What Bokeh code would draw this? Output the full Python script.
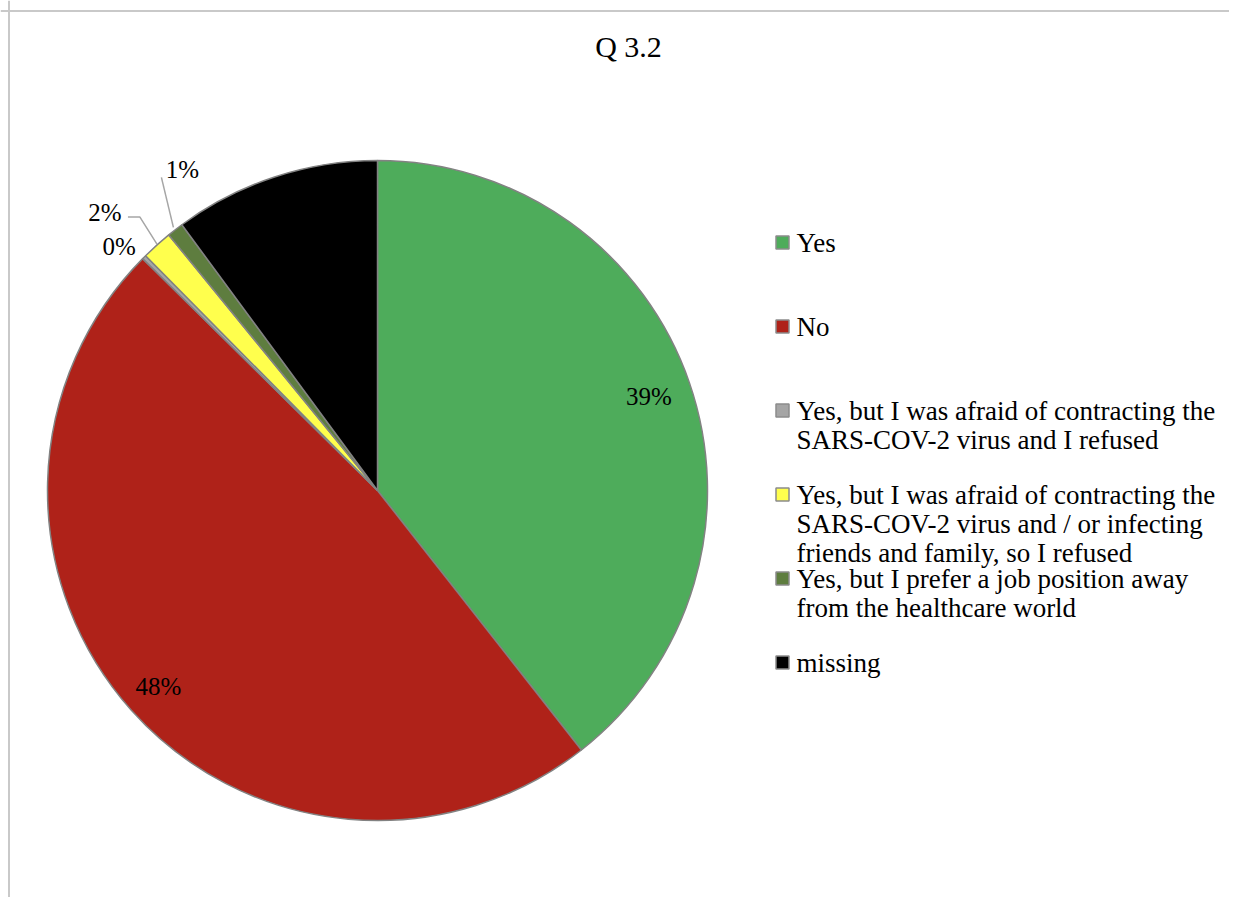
import math
from bokeh.plotting import figure
from bokeh.models import Range1d, Span
from bokeh.core.properties import value
from bokeh.embed import file_html
from bokeh.resources import INLINE

# ---- data ----
title = "Q 3.2"
categories = [
    "Yes",
    "No",
    "Yes, but I was afraid of contracting the\nSARS-COV-2 virus and I refused",
    "Yes, but I was afraid of contracting the\nSARS-COV-2 virus and / or infecting\nfriends and family, so I refused",
    "Yes, but I prefer a job position away\nfrom the healthcare world",
    "missing",
]
values = [39.4, 48.0, 0.2, 1.5, 0.8, 10.1]
labels = ["39%", "48%", "0%", "2%", "1%", ""]
colors = ["#4EAC5B", "#AF2219", "#A5A5A5", "#FFFF4D", "#5E7D3F", "#000000"]

FONT = value("Liberation Serif")
FS = "25px"
LFS = "27px"

W, H = 1229, 897
p = figure(width=W, height=H, output_backend="svg", toolbar_location=None,
           x_range=Range1d(0, W), y_range=Range1d(-H, 0),
           min_border=0, min_border_left=0, min_border_right=0,
           min_border_top=0, min_border_bottom=0)
p.axis.visible = False
p.xgrid.visible = False
p.ygrid.visible = False
p.outline_line_color = None
p.background_fill_color = "white"
p.border_fill_color = "white"

# chart area frame (top and left edges visible)
p.add_layout(Span(location=-10.5, dimension="width", line_color="#C9C9C9", line_width=2))
p.add_layout(Span(location=8.5, dimension="height", line_color="#C9C9C9", line_width=2))

# title
p.text(x=[628], y=[-46], text=[title], text_font=FONT, text_font_size="30px",
       text_align="center", text_baseline="middle", text_color="black")

# pie
cx, cy, R = 377, -490, 330
total = sum(values)
starts, ends, mids = [], [], []
cum = 0.0
for v in values:
    a0 = math.pi / 2 - 2 * math.pi * cum / total
    cum += v
    a1 = math.pi / 2 - 2 * math.pi * cum / total
    starts.append(a0)
    ends.append(a1)
    mids.append((a0 + a1) / 2)

p.wedge(x=[cx] * len(values), y=[cy] * len(values), radius=R,
        start_angle=starts, end_angle=ends, direction="clock",
        fill_color=colors, line_color="#828282", line_width=1.5)

# inside labels for the big slices
for i, rr in ((0, 0.87 * R), (1, 0.89 * R)):
    p.text(x=[cx + rr * math.cos(mids[i])], y=[cy + rr * math.sin(mids[i])],
           text=[labels[i]], text_font=FONT, text_font_size=FS,
           text_align="center", text_baseline="middle", text_color="black")

# outside labels for small slices
# "0%" (grey), no leader
ex = cx + R * math.cos(mids[2]); ey = cy + R * math.sin(mids[2])
p.text(x=[ex - 25], y=[ey + 11], text=[labels[2]], text_font=FONT, text_font_size=FS,
       text_align="center", text_baseline="middle", text_color="black")

# "2%" (yellow) with leader
ex = cx + R * math.cos(mids[3]); ey = cy + R * math.sin(mids[3])
p.line(x=[ex - 29, ex - 17, ex], y=[ey + 28, ey + 28, ey + 1], line_color="#A6A6A6", line_width=1.5)
p.text(x=[ex - 52], y=[ey + 33], text=[labels[3]], text_font=FONT, text_font_size=FS,
       text_align="center", text_baseline="middle", text_color="black")

# "1%" (dark green) with leader
ex = cx + 333 * math.cos(mids[4]); ey = cy + 333 * math.sin(mids[4])
p.line(x=[ex - 12, ex], y=[ey + 50, ey], line_color="#A6A6A6", line_width=1.5)
p.text(x=[ex + 9], y=[ey + 58], text=[labels[4]], text_font=FONT, text_font_size=FS,
       text_align="center", text_baseline="middle", text_color="black")

# legend
lx, ly0, step, line_h = 782, -242, -84, 29
for i, (cat, col) in enumerate(zip(categories, colors)):
    y = ly0 + step * i
    p.rect(x=[lx], y=[y], width=13, height=13, fill_color=col,
           line_color="#8C8C8C", line_width=1.5)
    for j, ln in enumerate(cat.split("\n")):
        p.text(x=[796], y=[y - j * line_h], text=[ln], text_font=FONT, text_font_size=LFS,
               text_align="left", text_baseline="middle", text_color="black")

open("out.html", "w").write(file_html(p, INLINE))
